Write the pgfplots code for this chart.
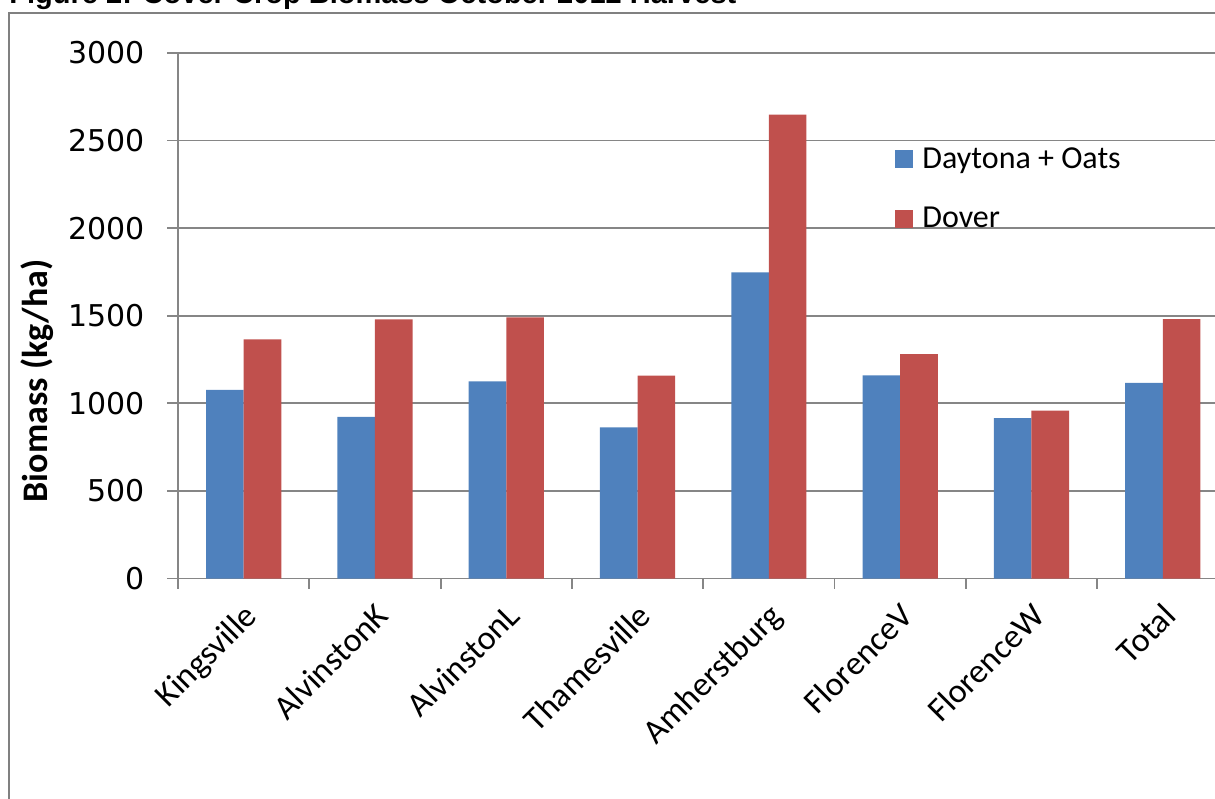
\documentclass[border=0pt]{standalone}
\usepackage{graphicx}
\usepackage{fontspec}
\setmainfont{Carlito}
\newfontfamily\dejavu{DejaVu Sans}
\newfontfamily\arial{Liberation Sans}
\usepackage{pgfplots}
\pgfplotsset{compat=1.18}
\definecolor{cblue}{HTML}{4F81BD}
\definecolor{cred}{HTML}{C0504D}
\definecolor{lgray}{HTML}{868686}
\definecolor{fgray}{HTML}{808080}
\pgfplotsset{sq/.style={legend image code/.code={\fill[##1] (0pt,-4.5pt) rectangle (9pt,4.5pt);}}}
\begin{document}
\begin{tikzpicture}
\useasboundingbox (0pt,0pt) rectangle (607.5pt,399pt);
\clip (0pt,0pt) rectangle (607.5pt,399pt);
\draw[fgray, line width=1pt] (4.5pt,392.5pt) rectangle (700pt,-50pt);
\node[anchor=base west, inner sep=0pt] at (4.5pt,397pt) {\resizebox{363.5pt}{!}{\arial\bfseries\fontsize{14.7}{17}\selectfont Figure 2: Cover Crop Biomass October 2012 Harvest}};
\begin{axis}[
 at={(89pt,109.75pt)}, anchor=south west,
 scale only axis, width=525.2pt, height=262.8pt,
 xmin=-0.5, xmax=7.5, ymin=0, ymax=3000,
 ybar=0pt, bar width=18.8pt,
 axis x line=bottom, axis y line=left,
 axis line style={-, draw=lgray, line width=0.9pt},
 ytick={0,500,...,3000},
 xtick={0,...,7},
 xticklabels={Kingsville,AlvinstonK,AlvinstonL,Thamesville,Amherstburg,FlorenceV,FlorenceW,Total},
 minor xtick={-0.5,0.5,...,7.5},
 major x tick style={draw=none},
 tick align=outside,
 major tick length=5.5pt, minor tick length=5pt,
 y tick style={lgray, line width=0.9pt},
 minor x tick style={lgray, line width=0.9pt},
 ymajorgrids, grid style={lgray, line width=0.9pt},
 scaled y ticks=false,
 /pgf/number format/assume math mode=true,
 /pgf/number format/1000 sep={},
 yticklabel style={font=\dejavu\fontsize{15}{18}\selectfont, xshift=-7.5pt},
 xticklabel style={font=\fontsize{17}{20}\selectfont, rotate=45, anchor=north east, inner sep=1pt, xshift=-3.5pt, yshift=-2.5pt},
 ylabel={Biomass (kg/ha)},
 ylabel style={font=\bfseries\fontsize{18}{21}\selectfont, at={(axis description cs:-0.1342,0.3758)}, anchor=center},
 legend style={at={(axis description cs:0.6826,0.8286)}, anchor=north west, draw=none, fill=none, font=\fontsize{16}{19}\selectfont, row sep=14pt, column sep=2.5pt, inner sep=0pt},
 legend cell align=left,
]
\addplot[fill=cblue, draw=none, sq] coordinates {(0,1076) (1,923) (2,1125) (3,863) (4,1748) (5,1160) (6,916) (7,1116)};
\addplot[fill=cred, draw=none, sq] coordinates {(0,1365) (1,1479) (2,1491) (3,1158) (4,2647) (5,1280) (6,958) (7,1481)};
\legend{Daytona + Oats, Dover}
\end{axis}
\end{tikzpicture}
\end{document}
